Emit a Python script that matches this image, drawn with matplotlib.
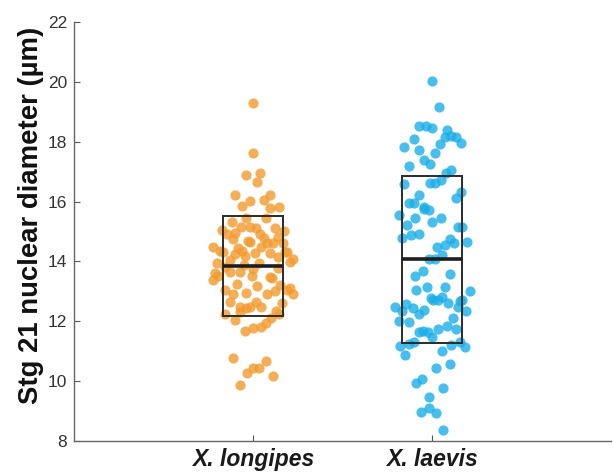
import numpy as np
import matplotlib
matplotlib.use('Agg')
import matplotlib.pyplot as plt

categories = ['X. longipes', 'X. laevis']

longipes = [19.30, 17.63, 16.89, 16.97, 16.64, 16.23, 16.02, 15.86, 16.05, 16.23,
            15.77, 15.83, 15.46, 15.46, 15.33, 15.05, 15.14, 15.16, 15.11, 15.11,
            15.03, 14.92, 14.94, 14.74, 14.92, 14.77, 14.83, 14.68, 14.66, 14.60,
            14.63, 14.60, 14.49, 14.33, 14.49, 14.35, 14.33, 14.44, 14.35, 14.25,
            14.19, 14.27, 14.29, 14.14, 14.30, 13.99, 14.08, 13.96, 14.05, 13.82,
            13.88, 13.96, 13.74, 13.62, 13.51, 13.38, 13.66, 13.66, 13.51, 13.47,
            13.77, 13.46, 13.05, 13.25, 12.91, 12.96, 13.18, 12.91, 13.00, 13.21,
            13.05, 13.10, 12.91, 12.66, 12.49, 12.43, 12.48, 12.65, 12.49, 12.60,
            12.24, 12.04, 12.30, 12.10, 12.35, 12.26, 11.69, 11.76, 11.80, 11.93,
            10.78, 10.67, 10.28, 10.43, 10.43, 10.17, 9.87]
longipes_jit = [0.00, 0.00, -0.04, 0.04, 0.02, -0.10, -0.02, -0.06, 0.06, 0.095,
                0.095, 0.147, -0.04, 0.07, -0.12, -0.175, -0.067, -0.017, 0.015, 0.123,
                0.175, -0.147, -0.10, -0.114, 0.039, 0.058, 0.141, -0.03, -0.017, 0.076,
                0.11, 0.166, 0.043, 0.179, -0.222, -0.184, -0.166, -0.082, -0.063, -0.10,
                -0.045, 0.011, 0.095, 0.136, 0.188, 0.207, 0.225, -0.203, -0.129, -0.157,
                -0.054, 0.03, 0.0, -0.212, -0.194, -0.225, -0.129, -0.073, -0.008, 0.095,
                0.141, 0.104, -0.157, -0.091, -0.11, -0.04, 0.02, 0.076, 0.123, 0.151,
                0.188, 0.207, 0.225, -0.132, -0.073, -0.04, -0.017, 0.017, 0.043, 0.16,
                -0.16, -0.10, -0.073, 0.099, 0.128, 0.147, -0.043, 0.0, 0.045, 0.073,
                -0.11, 0.073, -0.035, 0.0, 0.035, 0.11, -0.073]

laevis = [20.03, 19.17, 18.54, 18.53, 18.45, 18.39, 18.17, 18.19, 18.17, 17.95,
          17.92, 18.09, 17.81, 17.71, 17.61, 17.39, 17.26, 17.20, 17.07, 16.94,
          16.72, 16.63, 16.61, 16.58, 16.31, 16.13, 16.22, 15.94, 15.96, 15.83,
          15.75, 15.72, 15.55, 15.46, 15.46, 15.33, 15.22, 15.16, 15.14, 14.77,
          14.88, 14.92, 14.64, 14.74, 14.63, 14.55, 14.49, 14.22, 14.08, 14.08,
          13.69, 13.51, 13.58, 13.03, 13.14, 13.14, 13.00, 12.79, 12.71, 12.82,
          12.71, 12.61, 12.49, 12.71, 12.69, 12.47, 12.57, 12.36, 12.46, 12.38,
          12.23, 12.36, 12.02, 11.98, 12.10, 11.65, 11.66, 11.65, 11.49, 11.73,
          11.84, 11.74, 11.18, 11.24, 11.32, 11.32, 11.20, 11.13, 10.87, 11.01,
          10.43, 10.56, 9.95, 10.08, 9.76, 9.48, 8.98, 9.09, 8.95, 8.37]
laevis_jit = [0.00, 0.04, -0.076, -0.035, 0.0, 0.082, 0.073, 0.104, 0.134, 0.162,
              0.045, -0.101, -0.16, -0.071, 0.017, -0.043, -0.013, -0.128, 0.104, 0.075,
              0.05, -0.011, 0.017, -0.16, 0.162, 0.134, -0.071, -0.128, -0.101, -0.045,
              -0.048, -0.02, -0.188, -0.095, 0.05, 0.0, -0.141, 0.147, 0.169, -0.166,
              -0.119, -0.071, 0.194, 0.097, 0.123, 0.073, 0.026, 0.056, -0.015, 0.017,
              -0.052, -0.095, 0.097, -0.089, -0.028, 0.073, 0.212, -0.007, 0.03, 0.054,
              0.007, 0.091, 0.142, 0.166, 0.157, -0.21, -0.147, -0.168, -0.108, -0.048,
              -0.071, 0.19, -0.188, -0.127, 0.114, -0.076, -0.052, -0.024, 0.0, 0.03,
              0.082, 0.134, -0.179, -0.127, -0.101, 0.157, 0.104, 0.184, -0.154, 0.054,
              0.02, 0.097, -0.093, -0.054, 0.058, -0.017, -0.061, -0.017, 0.022, 0.063]

yticks = [8, 10, 12, 14, 16, 18, 20, 22]

colors = ['#f39a2e', '#1aaee8']


def main():
    plt.rcParams['font.family'] = ['Liberation Sans', 'DejaVu Sans']
    fig = plt.figure(figsize=(6.13, 4.74), dpi=100)
    ax = fig.add_axes([0.121, 0.0696, 0.876, 0.884])

    groups = [(longipes, longipes_jit), (laevis, laevis_jit)]
    for i, (vals, jit) in enumerate(groups):
        pos = i + 1
        vals = np.array(vals)
        ax.scatter(pos + np.array(jit), vals, s=54, color=colors[i], alpha=0.8,
                   linewidths=0, zorder=2)
        # box = mean +/- sd, thick line = mean
        m = vals.mean()
        sd = vals.std(ddof=1)
        hw = 0.167
        ax.add_patch(plt.Rectangle((pos - hw, m - sd), 2 * hw, 2 * sd, fill=False,
                                   edgecolor='#2b2b2b', linewidth=1.4, zorder=3))
        ax.plot([pos - hw, pos + hw], [m, m], color='#1e1e1e', linewidth=2.6,
                solid_capstyle='butt', zorder=4)

    ax.set_xlim(0, 3)
    ax.set_ylim(8, 22)
    ax.set_yticks(yticks)
    ax.set_xticks([1, 2])
    ax.set_xticklabels(categories, fontsize=16.5, fontweight='bold', style='italic',
                       color='#1a1a1a')
    ax.tick_params(axis='y', direction='in', length=4, labelsize=12.5,
                   colors='#555555', labelcolor='#333333', pad=5)
    ax.tick_params(axis='x', direction='in', length=4, colors='#555555',
                   labelcolor='#1a1a1a', pad=5)
    for side in ['top', 'right']:
        ax.spines[side].set_visible(False)
    for side in ['left', 'bottom']:
        ax.spines[side].set_color('#666666')
        ax.spines[side].set_linewidth(1.0)
    ax.set_ylabel('Stg 21 nuclear diameter (µm)', fontsize=19.8, fontweight='bold',
                  color='#111111')
    ax.yaxis.set_label_coords(-0.056, 0.539)

    fig.savefig('out.png', dpi=100)


if __name__ == '__main__':
    main()
